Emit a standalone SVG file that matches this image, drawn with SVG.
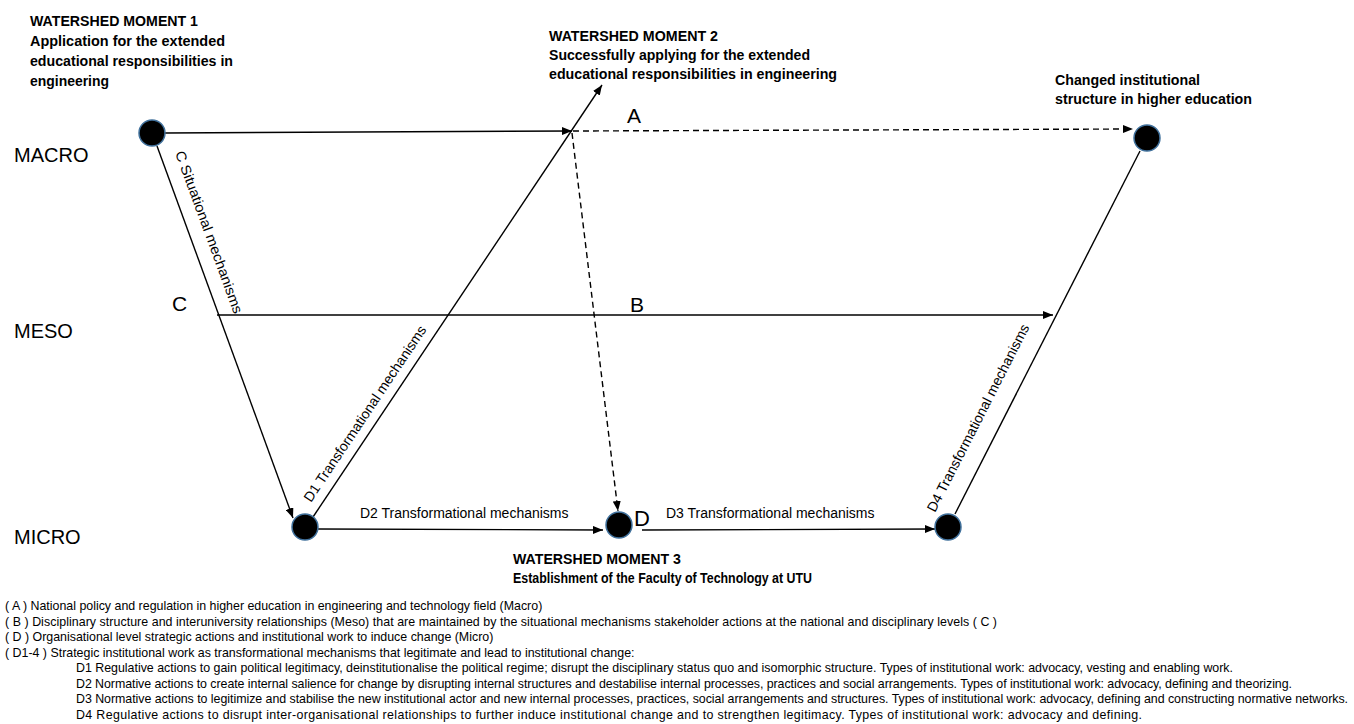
<svg xmlns="http://www.w3.org/2000/svg" width="1354" height="724" viewBox="0 0 1354 724">
<defs>
<marker id="arrow" markerUnits="userSpaceOnUse" markerWidth="10" markerHeight="8" viewBox="0 0 10 8" refX="10" refY="4" orient="auto"><path d="M0,0 L10,4 L0,8 z" fill="#000"/></marker>
<style>
text{font-family:"Liberation Sans",Arial,sans-serif;fill:#000}
.title{font-weight:bold;font-size:14px}
.lvl{font-size:20px}
.let{font-size:21px}
.lab{font-size:14px}
.leg{font-size:12.4px}
.node{fill:#000;stroke:#41719C;stroke-width:1.5}
.edge{stroke:#000;stroke-width:1.4;fill:none}
.arr{marker-end:url(#arrow)}
.dash{stroke-dasharray:6 4}
</style>
</defs>
<rect width="1354" height="724" fill="#fff"/>

<g id="titles">
<text class="title" x="30" y="26" textLength="168" lengthAdjust="spacingAndGlyphs">WATERSHED MOMENT 1</text>
<text class="title" x="30" y="46" textLength="195" lengthAdjust="spacingAndGlyphs">Application for the extended</text>
<text class="title" x="30" y="66" textLength="203" lengthAdjust="spacingAndGlyphs">educational responsibilities in</text>
<text class="title" x="30" y="86" textLength="79" lengthAdjust="spacingAndGlyphs">engineering</text>
<text class="title" x="549" y="41" textLength="169" lengthAdjust="spacingAndGlyphs">WATERSHED MOMENT 2</text>
<text class="title" x="549" y="60" textLength="261" lengthAdjust="spacingAndGlyphs">Successfully applying for the extended</text>
<text class="title" x="549" y="79" textLength="288" lengthAdjust="spacingAndGlyphs">educational responsibilities in engineering</text>
<text class="title" x="1055" y="85" textLength="145" lengthAdjust="spacingAndGlyphs">Changed institutional</text>
<text class="title" x="1055" y="104" textLength="197" lengthAdjust="spacingAndGlyphs">structure in higher education</text>
<text class="title" x="513" y="564" textLength="168" lengthAdjust="spacingAndGlyphs">WATERSHED MOMENT 3</text>
<text class="title" x="513" y="583" textLength="299" lengthAdjust="spacingAndGlyphs">Establishment of the Faculty of Technology at UTU</text>
</g>

<g id="levels">
<text class="lvl" x="14" y="162">MACRO</text>
<text class="lvl" x="14" y="338">MESO</text>
<text class="lvl" x="14" y="544">MICRO</text>
</g>

<g id="connectors">
<line class="edge arr" x1="165" y1="133" x2="572" y2="131"/>
<line class="edge arr dash" x1="573" y1="131" x2="1133" y2="129"/>
<line class="edge arr dash" x1="572" y1="133" x2="618" y2="511"/>
<line class="edge arr" x1="313" y1="517" x2="602" y2="85"/>
<line class="edge arr" x1="157" y1="146" x2="293" y2="518"/>
<line class="edge arr" x1="217" y1="315" x2="1053" y2="315"/>
<line class="edge arr" x1="318" y1="529" x2="603" y2="530"/>
<line class="edge arr" x1="642" y1="530" x2="935" y2="529"/>
<line class="edge" x1="955" y1="514" x2="1140" y2="151"/>
</g>

<g id="edge-labels">
<text class="let" x="627" y="123">A</text>
<text class="let" x="630" y="312">B</text>
<text class="let" x="172" y="311">C</text>
<text class="let" x="634" y="526" style="font-size:22px">D</text>
<text class="lab" x="360" y="518">D2 Transformational mechanisms</text>
<text class="lab" x="666" y="518">D3 Transformational mechanisms</text>
<text class="lab" transform="translate(175,153) rotate(69.9)" textLength="172" lengthAdjust="spacingAndGlyphs">C Situational mechanisms</text>
<text class="lab" transform="translate(311,503) rotate(-56.2)">D1 Transformational mechanisms</text>
<text class="lab" transform="translate(935,513) rotate(-63)">D4 Transformational mechanisms</text>
</g>

<g id="node-macro-1"><circle class="node" cx="152" cy="133" r="13"/></g>
<g id="node-macro-2"><circle class="node" cx="1147" cy="138" r="13"/></g>
<g id="node-micro-1"><circle class="node" cx="305" cy="527" r="13"/></g>
<g id="node-micro-d"><circle class="node" cx="619" cy="525" r="13"/></g>
<g id="node-micro-3"><circle class="node" cx="948" cy="527" r="13"/></g>

<g id="legend">
<text class="leg" x="5" y="610">( A ) National policy and regulation in higher education in engineering and technology field (Macro)</text>
<text class="leg" x="5" y="625.5" textLength="992">( B ) Disciplinary structure and interuniversity relationships (Meso) that are maintained by the situational mechanisms stakeholder actions at the national and disciplinary levels ( C )</text>
<text class="leg" x="5" y="641">( D ) Organisational level strategic actions and institutional work to induce change (Micro)</text>
<text class="leg" x="5" y="656.5">( D1-4 ) Strategic institutional work as transformational mechanisms that legitimate and lead to institutional change:</text>
<text class="leg" x="76" y="672" textLength="1157">D1 Regulative actions to gain political legitimacy, deinstitutionalise the political regime; disrupt the disciplinary status quo and isomorphic structure. Types of institutional work: advocacy, vesting and enabling work.</text>
<text class="leg" x="76" y="687.5" textLength="1216">D2 Normative actions to create internal salience for change by disrupting internal structures and destabilise internal processes, practices and social arrangements. Types of institutional work: advocacy, defining and theorizing.</text>
<text class="leg" x="76" y="703" textLength="1272">D3 Normative actions to legitimize and stabilise the new institutional actor and new internal processes, practices, social arrangements and structures. Types of institutional work: advocacy, defining and constructing normative networks.</text>
<text class="leg" x="76" y="718.5" textLength="1066">D4 Regulative actions to disrupt inter-organisational relationships to further induce institutional change and to strengthen legitimacy. Types of institutional work: advocacy and defining.</text>
</g>
</svg>
